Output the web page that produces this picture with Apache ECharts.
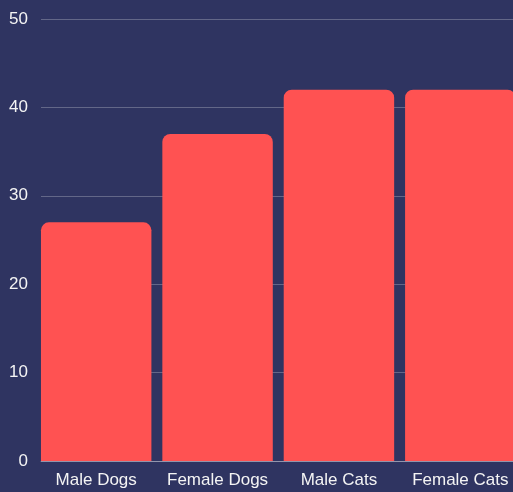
<!DOCTYPE html>
<html>
<head>
<meta charset="utf-8">
<script src="https://cdn.jsdelivr.net/npm/echarts@6/dist/echarts.min.js"></script>
<style>
html,body{margin:0;padding:0;background:#2f3461;overflow:hidden;width:513px;height:492px;}
#c{width:521px;height:492px;}
</style>
</head>
<body>
<div id="c"></div>
<script>
const categories = ["Male Dogs", "Female Dogs", "Male Cats", "Female Cats"];
const values = [27, 37, 42, 42];
const yTicks = [0, 10, 20, 30, 40, 50];

const chart = echarts.init(document.getElementById('c'), null, {renderer: 'canvas'});
const font = 'Liberation Sans, Arial, sans-serif';
chart.setOption({
  backgroundColor: '#2f3461',
  animation: false,
  grid: [
    {left: 41, right: 8, top: 19, bottom: 31},
    {left: 35.5, right: 0, top: 19, bottom: 31}
  ],
  xAxis: [
    {gridIndex: 0, type: 'category', data: categories,
     axisLine: {show: true, lineStyle: {color: 'rgba(255,255,255,0.3)', width: 1}},
     axisTick: {show: false}, axisLabel: {show: false}, splitLine: {show: false}},
    {gridIndex: 1, type: 'category', data: categories,
     axisLine: {show: false}, axisTick: {show: false},
     axisLabel: {color: '#f4f4f4', fontSize: 17, fontFamily: font, margin: 11, interval: 0, hideOverlap: false}}
  ],
  yAxis: [
    {gridIndex: 0, type: 'value', min: yTicks[0], max: yTicks[yTicks.length-1], interval: 10,
     axisLine: {show: false}, axisTick: {show: false},
     axisLabel: {color: '#f4f4f4', fontSize: 17, fontFamily: font, margin: 13},
     splitLine: {lineStyle: {color: 'rgba(255,255,255,0.25)', width: 1}}},
    {gridIndex: 1, type: 'value', min: yTicks[0], max: yTicks[yTicks.length-1], interval: 10,
     show: false, splitLine: {show: false}}
  ],
  series: [{
    type: 'bar', xAxisIndex: 1, yAxisIndex: 1,
    data: values,
    barCategoryGap: '9%',
    itemStyle: {color: '#ff5252', borderRadius: [8, 8, 0, 0]}
  }]
});
</script>
</body>
</html>
